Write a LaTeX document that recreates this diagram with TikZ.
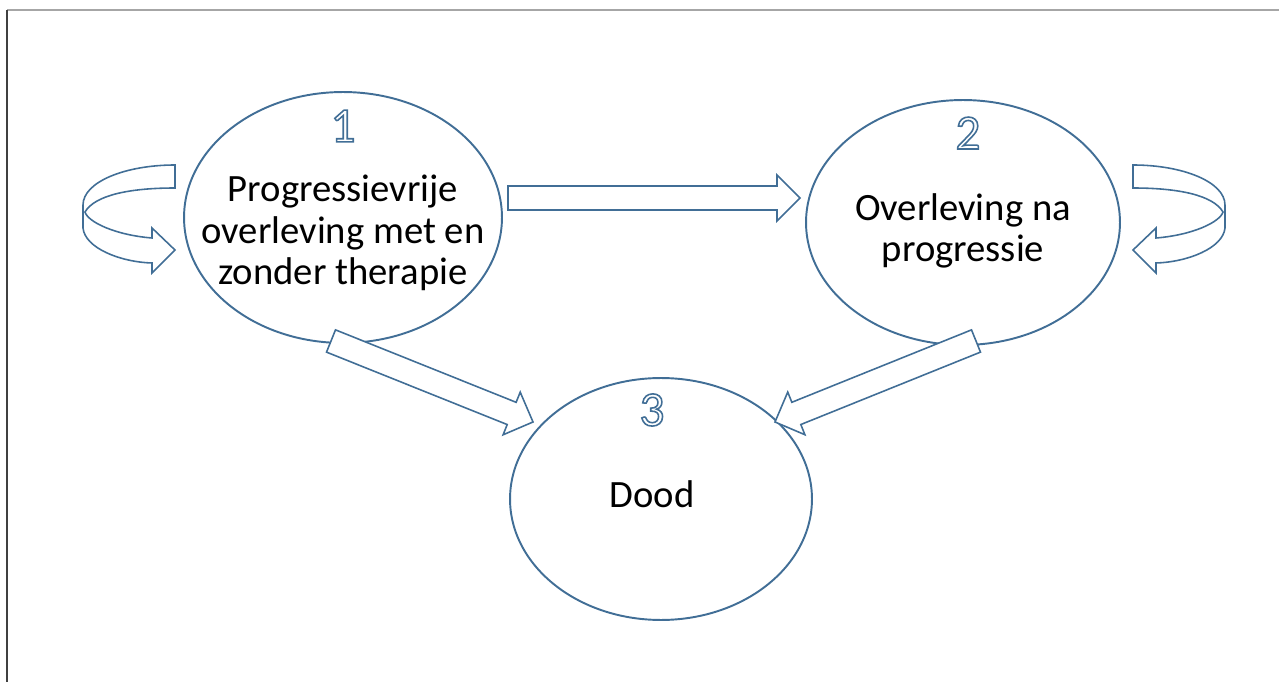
\documentclass[tikz,border=0pt]{standalone}
\usepackage{fontspec}
\setmainfont{Carlito}
\usetikzlibrary{shapes.geometric,calc,positioning}

\definecolor{shapeblue}{RGB}{65,110,150}
% digit drawn as outline only (text render mode 1)
\newcommand{\outlinenum}[1]{\special{pdf:literal direct 1 Tr 0.9 w 0.255 0.431 0.588 RG}#1\special{pdf:literal direct 0 Tr}}

% block arrow from tail coordinate to tip coordinate
\newcommand{\blockarrow}[2]{%
\draw[arrowline] let \p1=(#1), \p2=(#2), \n1={atan2(\y2-\y1,\x2-\x1)} in
  ($(#1)+(\n1+90:0.24cm)$) -- ($(#2)!0.46cm!(#1)+(\n1+90:0.24cm)$)
  -- ($(#2)!0.46cm!(#1)+(\n1+90:0.46cm)$) -- (#2)
  -- ($(#2)!0.46cm!(#1)+(\n1-90:0.46cm)$) -- ($(#2)!0.46cm!(#1)+(\n1-90:0.24cm)$)
  -- ($(#1)+(\n1-90:0.24cm)$) -- cycle ;}

\begin{document}
\begin{tikzpicture}[x=0.02cm, y=-0.02cm,
  state/.style={ellipse, draw=shapeblue, line width=1.1pt, inner sep=0pt},
  statetext/.style={align=center, font=\fontsize{22}{23.5}\selectfont},
  statenum/.style={font=\fontsize{28}{28}\selectfont},
  arrowline/.style={draw=shapeblue, fill=white, line width=0.9pt, line join=miter},
  selfloop/.pic={
    \draw[arrowline] (0,0) .. controls (-50,0) and (-92,17) .. (-92,40) -- (-92,63)
      .. controls (-90,83) and (-55,97) .. (-23,98) -- (-23,108) -- (0,85)
      -- (-23,63) -- (-23,73) .. controls (-60,70) and (-87,57) .. (-90,47)
      .. controls (-80,30) and (-45,23) .. (0,23) -- cycle ;
  }]

\useasboundingbox (0,0) rectangle (1279,682) ;

\draw [gray!70, line width=0.04cm] (7,10) to (1279,10) ;
\draw [black!75, line width=0.04cm] (7,10) to (7,682) ;

\node [state, minimum width=6.36cm, minimum height=5.02cm] (s1) at (343,217.5) {} ;
\node [state, minimum width=6.28cm, minimum height=4.9cm] (s2) at (963,222.5) {} ;
\node [state, minimum width=6.04cm, minimum height=4.84cm] (s3) at (661,499) {} ;

\node [statetext] (t1) at (343,233) {Progressievrije\\overleving met en\\zonder therapie} ;
\node [statetext] (t2) at (963,231) {Overleving na\\progressie} ;
\node [statetext] (t3) at (652,494) {Dood} ;

\coordinate (a12 tail) at (508,198) ;
\coordinate (a12 tip) at (800,198) ;
\coordinate (a13 tail) at (331,341) ;
\coordinate (a13 tip) at (533,422) ;
\coordinate (a23 tail) at (976,341) ;
\coordinate (a23 tip) at (775,422) ;

\blockarrow{a12 tail}{a12 tip}
\blockarrow{a13 tail}{a13 tip}
\blockarrow{a23 tail}{a23 tip}

\pic at (175,165) {selfloop} ;
\pic [xscale=-1] at (1133,165) {selfloop} ;

\node [statenum] (n1) at (343,126) {\outlinenum{1}} ;
\node [statenum] (n2) at (968,133) {\outlinenum{2}} ;
\node [statenum] (n3) at (652,410) {\outlinenum{3}} ;

\end{tikzpicture}
\end{document}
